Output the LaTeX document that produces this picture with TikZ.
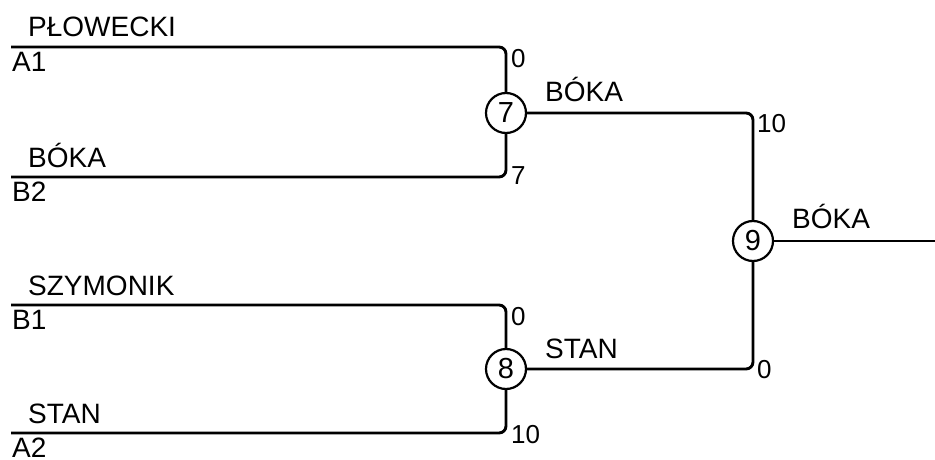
\documentclass[tikz,border=0pt]{standalone}
\usepackage{fontspec}
\setmainfont{Liberation Sans}
\usepackage{tikz}
\usetikzlibrary{positioning}
\tikzset{match/.style = {draw, circle, line width=2.2pt, minimum size=40pt, inner sep=0pt,
                         font=\fontsize{29}{34}\selectfont},
         wire/.style = {line width=2.9pt, rounded corners=7pt},
         player/.style = {anchor=base west, inner sep=0pt, font=\fontsize{28}{34}\selectfont},
         score/.style = {anchor=base west, inner sep=0pt, font=\fontsize{26}{31}\selectfont}}

\begin{document}
\begin{tikzpicture}[x=1pt, y=-1pt]
    \useasboundingbox (0, 0) rectangle (935, 460);
    \node [match] (m7) at (506, 113) {7};
    \node [match] (m8) at (506, 369) {8};
    \node [match] (m9) at (753, 241) {9};
    \coordinate (final) at (935, 241);
    \foreach \player/\seed/\y/\m in {PŁOWECKI/A1/47/m7, BÓKA/B2/177/m7,
                                     SZYMONIK/B1/305/m8, STAN/A2/433/m8} {
      \coordinate (\seed) at (11, \y);
      \draw [wire] (\seed) -| (\m);
      \node [player] (name\seed) at (28, \y - 10) {\player};
      \node [player] (seed\seed) at (12, \y + 24.5) {\seed};
    }
    \draw [wire] (m7) -| (m9);
    \draw [wire] (m8) -| (m9);
    \draw [wire] (m9) -- (final);
    \node [player] (win7) at (545, 102) {BÓKA};
    \node [player] (win8) at (545, 358) {STAN};
    \node [player] (win9) at (792, 228) {BÓKA};
    % scores
    \node [score] (sA1) at (511, 68) {0};
    \node [score] (sB2) at (511, 184) {7};
    \node [score] (sB1) at (511, 325) {0};
    \node [score] (sA2) at (511, 443) {10};
    \node [score] (s7) at (757, 132) {10};
    \node [score] (s8) at (757, 378) {0};
  \end{tikzpicture}
\end{document}
